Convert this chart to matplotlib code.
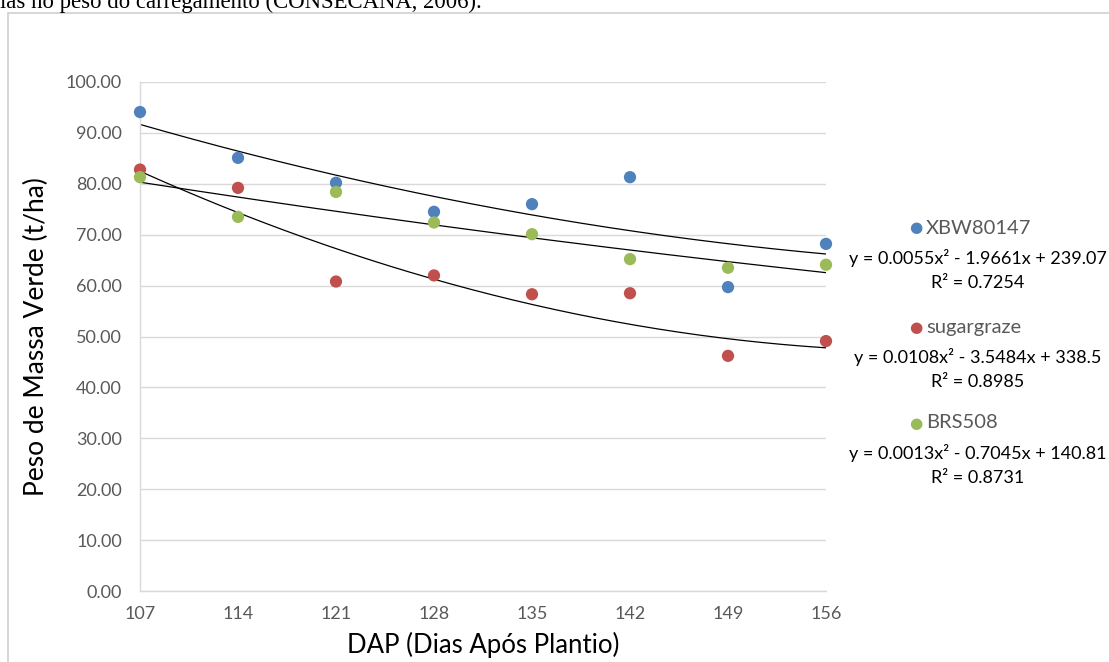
import numpy as np
import matplotlib
matplotlib.use("Agg")
import matplotlib.pyplot as plt
from matplotlib.patches import Rectangle

# dias apos plantio
dap = [107, 114, 121, 128, 135, 142, 149, 156]

xbw80147 = [94.1, 85.1, 80.2, 74.5, 76.0, 81.3, 59.7, 68.2]
sugargraze = [82.8, 79.2, 60.8, 62.0, 58.3, 58.5, 46.2, 49.1]
brs508 = [81.3, 73.5, 78.4, 72.4, 70.1, 65.2, 63.5, 64.1]

# coeficientes das linhas de tendencia (polinomial grau 2)
coef_xbw = [0.0055, -1.9661, 239.07]
coef_sug = [0.0108, -3.5484, 338.5]
coef_brs = [0.0013, -0.7045, 140.81]

eq_xbw = "y = 0.0055x² - 1.9661x + 239.07"
eq_sug = "y = 0.0108x² - 3.5484x + 338.5"
eq_brs = "y = 0.0013x² - 0.7045x + 140.81"
r2_xbw = "R² = 0.7254"
r2_sug = "R² = 0.8985"
r2_brs = "R² = 0.8731"

nomes = ["XBW80147", "sugargraze", "BRS508"]
cores = ["#4f81bd", "#c0504d", "#9bbb59"]

plt.rcParams['font.family'] = ['Lato', 'DejaVu Sans']

fig = plt.figure(figsize=(11.09, 6.62), dpi=100)

# texto cortado do documento acima do grafico
fig.text(0.0, 1.0 - 8 / 662, "ias no peso do carregamento (CONSECANA, 2006).",
         family=['Liberation Serif'], fontsize=16.4, color='black', va='baseline', ha='left')

# moldura do grafico
fig.patches.append(Rectangle((8 / 1109, -0.1), 1.2, 1.0 - 13 / 662 + 0.1,
                             transform=fig.transFigure, fill=False,
                             edgecolor='#d0d0d0', lw=1.2))

ax = fig.add_axes([140 / 1109, 71 / 662, 686 / 1109, 509 / 662])

series = [xbw80147, sugargraze, brs508]
coefs = [coef_xbw, coef_sug, coef_brs]

xx = np.linspace(dap[0], dap[-1], 200)
for vals, cf, cor in zip(series, coefs, cores):
    ax.plot(xx, np.polyval(cf, xx), color='black', lw=0.9, zorder=2)
    ax.scatter(dap, vals, s=78, color=cor, zorder=3, clip_on=False, edgecolors='none')

ax.set_xlim(107, 156)
ax.set_ylim(0, 100)
ax.set_xticks(dap)
ax.set_yticks(np.arange(0, 101, 10))
ax.set_yticklabels(["%.2f" % v for v in np.arange(0, 101, 10)])
ax.tick_params(length=0, colors='#595959', labelsize=13)
ax.tick_params(axis='x', pad=11)
ax.tick_params(axis='y', pad=13)
ax.yaxis.grid(True, color='#d9d9d9', lw=1)
ax.set_axisbelow(True)
for s in ['top', 'right']:
    ax.spines[s].set_visible(False)
for s in ['left', 'bottom']:
    ax.spines[s].set_color('#d9d9d9')
    ax.spines[s].set_linewidth(1)

ax.set_xlabel("DAP (Dias Após Plantio)", fontsize=18.5, color='black', labelpad=7)
ax.set_ylabel("Peso de Massa Verde (t/ha)", fontsize=19, color='black', labelpad=12)

# legenda com equacoes
leg_y = [228, 327, 423]
eqs = [eq_xbw, eq_sug, eq_brs]
r2s = [r2_xbw, r2_sug, r2_brs]
for nome, cor, y0, eq, r2 in zip(nomes, cores, leg_y, eqs, r2s):
    fy = 1.0 - y0 / 662
    fig.text(916 / 1109, fy, "●", color=cor, fontsize=11, ha='center', va='center',
             family=['DejaVu Sans'])
    fig.text(926 / 1109, fy, nome, color='#595959', fontsize=14.5, ha='left', va='center')
    fig.text(978 / 1109, 1.0 - (y0 + 30) / 662, eq, color='black', fontsize=13,
             ha='center', va='center')
    fig.text(978 / 1109, 1.0 - (y0 + 55) / 662, r2, color='black', fontsize=13,
             ha='center', va='center')

fig.savefig("out.png", dpi=100)
